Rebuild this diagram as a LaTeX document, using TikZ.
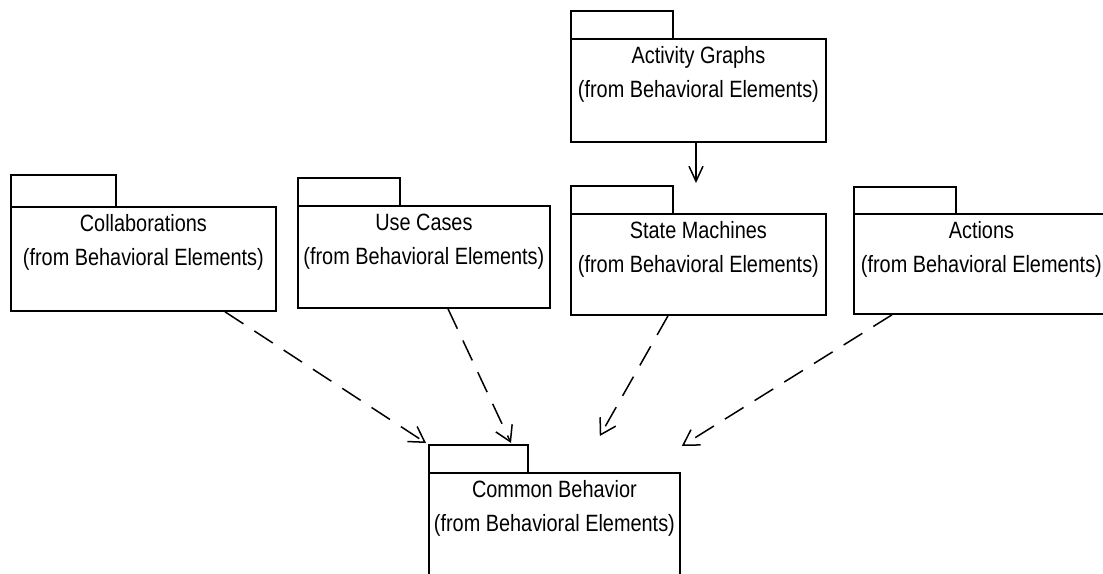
\documentclass[tikz,border=0pt]{standalone}
\usepackage{fontspec}
\setmainfont{Liberation Sans}
\usetikzlibrary{arrows.meta,calc}
\newcommand\talltxt[1]{\scalebox{0.97}[1.15]{#1}}
\begin{document}
\begin{tikzpicture}[x=1pt,y=-1pt,
  tabbox/.style={draw, rectangle, anchor=north west, inner sep=0pt, line width=1.8pt, minimum height=28pt, minimum width=102pt},
  bodybox/.style={draw, rectangle, anchor=north west, inner sep=0pt, line width=1.8pt, minimum height=102pt, minimum width=255pt},
  pkgtext/.style={anchor=base, inner sep=0pt, font=\fontsize{20.5}{24}\selectfont},
  dep/.style={line width=1.5pt, dash pattern=on 22pt off 13pt, -{Straight Barb[length=15pt,width=18pt,line width=1.5pt]}},
  gen/.style={line width=1.5pt, -{Straight Barb[length=15pt,width=14pt,line width=1.5pt]}}
]
\useasboundingbox (0,0) rectangle (1103,573);
\clip (0,0) rectangle (1103,573);

% Activity Graphs
\node[tabbox] (agtab) at (570,10) {};
\node[bodybox, minimum height=103pt] (ag) at (570,38) {};
\node[pkgtext] (agt1) at ($(ag.north)+(0,25)$) {\talltxt{Activity Graphs}};
\node[pkgtext] (agt2) at ($(ag.north)+(0,59)$) {\talltxt{(from Behavioral Elements)}};

% State Machines
\node[tabbox] (smtab) at (570,185) {};
\node[bodybox, minimum height=101pt] (sm) at (570,213) {};
\node[pkgtext] (smt1) at ($(sm.north)+(0,25)$) {\talltxt{State Machines}};
\node[pkgtext] (smt2) at ($(sm.north)+(0,59)$) {\talltxt{(from Behavioral Elements)}};

% Collaborations
\node[tabbox, minimum width=105pt, minimum height=32pt] (coltab) at (10,174) {};
\node[bodybox, minimum width=265pt, minimum height=104pt] (col) at (10,206) {};
\node[pkgtext] (colt1) at ($(col.north)+(0,25)$) {\talltxt{Collaborations}};
\node[pkgtext] (colt2) at ($(col.north)+(0,59)$) {\talltxt{(from Behavioral Elements)}};

% Use Cases
\node[tabbox] (uctab) at (297,177) {};
\node[bodybox, minimum width=252pt] (uc) at (297,205) {};
\node[pkgtext] (uct1) at ($(uc.north)+(0,25)$) {\talltxt{Use Cases}};
\node[pkgtext] (uct2) at ($(uc.north)+(0,59)$) {\talltxt{(from Behavioral Elements)}};

% Actions
\node[tabbox, minimum height=27pt] (actab) at (853,186) {};
\node[bodybox, minimum height=100pt] (ac) at (853,213) {};
\node[pkgtext] (act1) at ($(ac.north)+(0,25)$) {\talltxt{Actions}};
\node[pkgtext] (act2) at ($(ac.north)+(0,59)$) {\talltxt{(from Behavioral Elements)}};

% Common Behavior
\node[tabbox, minimum width=99pt] (cbtab) at (428,444) {};
\node[bodybox, minimum width=251pt, minimum height=130pt] (cb) at (428,472) {};
\node[pkgtext] (cbt1) at ($(cb.north)+(0,25)$) {\talltxt{Common Behavior}};
\node[pkgtext] (cbt2) at ($(cb.north)+(0,59)$) {\talltxt{(from Behavioral Elements)}};

% connector ends
\coordinate (smin) at ($(sm.north west)+(126,-30)$);
\coordinate (e3) at ($(cbtab.north east)+(71,-8)$);
\coordinate (e4) at ($(cb.north east)+(1,-26)$);

% connectors
\draw[gen] ($(ag.south west)+(126,0)$) -- (smin);
\draw[dep] ($(col.south west)+(215,0)$) -- ($(cbtab.north west)+(-2,-1)$);
\draw[dep] ($(uc.south west)+(151,0)$) -- ($(cbtab.north west)+(83,-1)$);
\draw[dep] ($(sm.south west)+(98,0)$) -- (e3);
\draw[dep] ($(ac.south west)+(39,0)$) -- (e4);
\end{tikzpicture}
\end{document}
